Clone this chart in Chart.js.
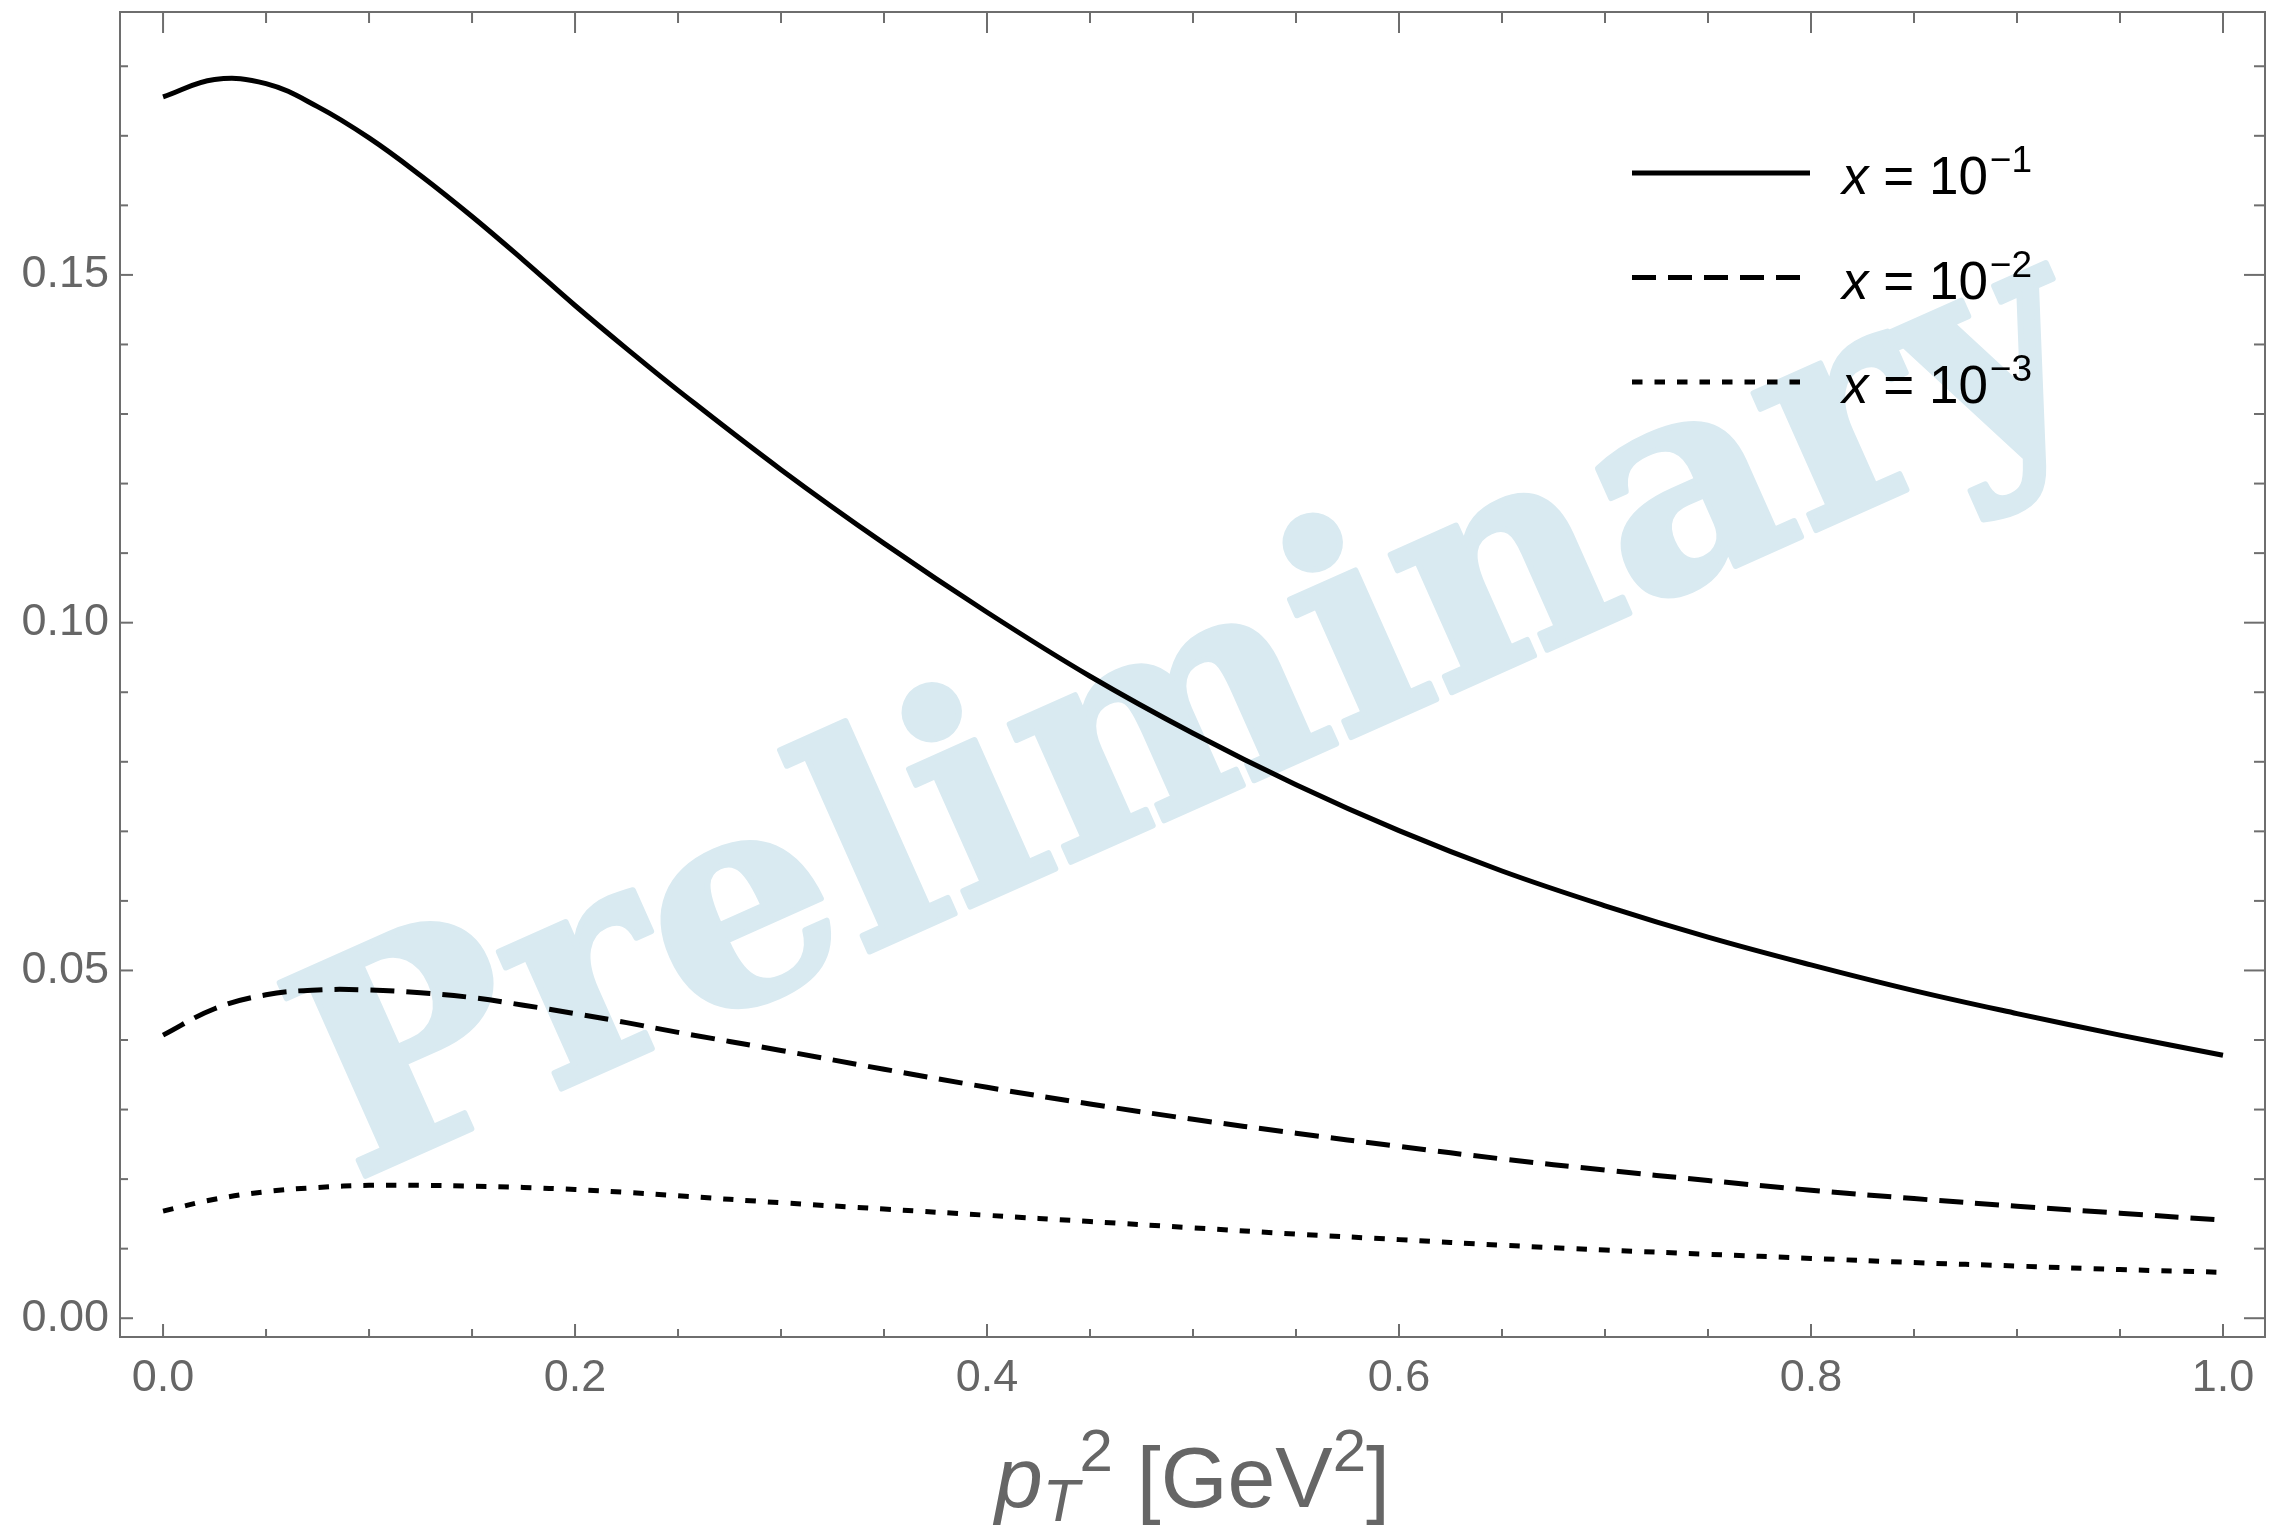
<!DOCTYPE html>
<html>
<head>
<meta charset="utf-8">
<script src="https://cdn.jsdelivr.net/npm/chart.js@4.4.1/dist/chart.umd.min.js"></script>
<style>
  html, body { margin: 0; padding: 0; background: #fff; }
  #chart { display: block; }
</style>
</head>
<body>
<canvas id="chart" width="2274" height="1527"></canvas>
<script>
// pT^2 grid [GeV^2] and curves
const pT2 = [0, 0.025, 0.05, 0.075, 0.1, 0.125, 0.15, 0.175, 0.2, 0.225, 0.25, 0.3, 0.35, 0.4, 0.45, 0.5,
             0.55, 0.6, 0.65, 0.7, 0.75, 0.8, 0.85, 0.9, 0.95, 1.0];
const xE1 = [0.1756, 0.1781, 0.1775, 0.1742, 0.1697, 0.1643, 0.1584, 0.1521, 0.1456, 0.1394, 0.1334, 0.1220, 0.1114, 0.1015, 0.0923, 0.0841,
             0.0767, 0.0701, 0.0643, 0.0593, 0.0548, 0.0508, 0.0471, 0.0438, 0.0407, 0.0378];
const xE2 = [0.0407, 0.0445, 0.0465, 0.0472, 0.0472, 0.0468, 0.0461, 0.0450, 0.0438, 0.0425, 0.0411, 0.0385, 0.0358, 0.0332, 0.0308, 0.0286,
             0.0266, 0.0247, 0.0229, 0.0213, 0.0198, 0.0184, 0.0172, 0.0161, 0.0151, 0.0141];
const xE3 = [0.0154, 0.0171, 0.0182, 0.0188, 0.0191, 0.0191, 0.0190, 0.0188, 0.0185, 0.0181, 0.0176, 0.0166, 0.0157, 0.0148, 0.0139, 0.0130,
             0.0121, 0.0113, 0.0105, 0.0098, 0.0092, 0.0086, 0.0080, 0.0075, 0.0070, 0.0066];

const seriesExp = ['\u22121', '\u22122', '\u22123'];
const xTicks = [0, 0.2, 0.4, 0.6, 0.8, 1.0];
const xMinorTicks = [0, 0.05, 0.1, 0.15, 0.2, 0.25, 0.3, 0.35, 0.4, 0.45, 0.5, 0.55, 0.6, 0.65, 0.7, 0.75, 0.8, 0.85, 0.9, 0.95, 1.0];
const yTicks = [0, 0.05, 0.10, 0.15];
const yMinorTicks = [0, 0.01, 0.02, 0.03, 0.04, 0.05, 0.06, 0.07, 0.08, 0.09, 0.10, 0.11, 0.12, 0.13, 0.14, 0.15, 0.16, 0.17, 0.18];

const GRAY = '#6e6e6e';
const SANS = '"Liberation Sans", Arial, sans-serif';

const pts = ys => pT2.map((x, i) => ({ x: x, y: ys[i] }));

function line(ctx, x1, y1, x2, y2) {
    ctx.beginPath(); ctx.moveTo(x1, y1); ctx.lineTo(x2, y2); ctx.stroke();
}

const decor = {
    id: 'decor',
    beforeDatasetsDraw(chart) {
        // watermark
        const { ctx, chartArea: a } = chart;
        ctx.save();
        ctx.translate(a.left + a.width * 0.5026, a.top + a.height * 0.540);
        ctx.rotate(-24 * Math.PI / 180);
        ctx.font = 'bold 290px "DejaVu Serif", serif';
        ctx.fillStyle = '#d9eaf1';
        ctx.strokeStyle = '#d9eaf1';
        ctx.lineWidth = 6;
        ctx.lineJoin = 'round';
        ctx.textAlign = 'center';
        ctx.textBaseline = 'alphabetic';
        ctx.fillText('Preliminary', 0, 71);
        ctx.strokeText('Preliminary', 0, 71);
        ctx.restore();
    },
    afterDatasetsDraw(chart) {
        const { ctx, chartArea: a, scales } = chart;
        const xs = scales.x, ys = scales.y;
        ctx.save();
        ctx.strokeStyle = GRAY;
        ctx.lineWidth = 2;
        ctx.strokeRect(a.left, a.top, a.width, a.height);

        // inward ticks, all four sides
        xMinorTicks.forEach(v => {
            const px = xs.getPixelForValue(v);
            const major = xTicks.some(t => Math.abs(t - v) < 1e-9);
            line(ctx, px, a.bottom, px, a.bottom - (major ? 13 : 8));
            line(ctx, px, a.top, px, a.top + (major ? 21 : 11));
        });
        yMinorTicks.forEach(v => {
            const py = ys.getPixelForValue(v);
            const major = yTicks.some(t => Math.abs(t - v) < 1e-9);
            line(ctx, a.left, py, a.left + (major ? 13 : 8), py);
            line(ctx, a.right, py, a.right - (major ? 21 : 11), py);
        });

        // legend
        const lx = a.left + 1512, tx = a.left + 1722;
        chart.data.datasets.forEach((ds, i) => {
            const ly = a.top + 161 + i * 104.5;
            ctx.strokeStyle = ds.borderColor;
            ctx.lineWidth = ds.borderWidth;
            ctx.setLineDash(ds.borderDash || []);
            line(ctx, lx, ly, lx + 178, ly);
            ctx.setLineDash([]);
            const base = ly + 21;
            ctx.fillStyle = '#000';
            ctx.textBaseline = 'alphabetic';
            ctx.textAlign = 'left';
            ctx.font = 'italic 53px ' + SANS;
            ctx.fillText('x', tx, base);
            let cx = tx + ctx.measureText('x').width;
            ctx.font = '53px ' + SANS;
            ctx.fillText(' = 10', cx, base);
            cx += ctx.measureText(' = 10').width;
            ctx.font = '37px ' + SANS;
            ctx.fillText(seriesExp[i], cx + 2, base - 22);
        });

        // axis title  p_T^2 [GeV^2]
        ctx.fillStyle = '#666';
        const fs = 86, sub = Math.round(fs * 0.7);
        const parts = [
            { t: 'p', f: 'italic ' + fs + 'px ' + SANS, dy: 0 },
            { t: 'T', f: 'italic ' + sub + 'px ' + SANS, dy: 14 },
            { t: '2', f: sub + 'px ' + SANS, dy: -36 },
            { t: ' [GeV', f: fs + 'px ' + SANS, dy: 0 },
            { t: '2', f: sub + 'px ' + SANS, dy: -36 },
            { t: ']', f: fs + 'px ' + SANS, dy: 0 }
        ];
        let w = 0;
        parts.forEach(p => { ctx.font = p.f; p.w = ctx.measureText(p.t).width; w += p.w; });
        let px = (a.left + a.right) / 2 - w / 2;
        const base = 1507;
        parts.forEach(p => { ctx.font = p.f; ctx.fillText(p.t, px, base + p.dy); px += p.w; });
        ctx.restore();
    }
};

const common = { borderColor: '#000', borderWidth: 5, pointRadius: 0, fill: false,
                 tension: 0.4, borderCapStyle: 'butt' };

new Chart(document.getElementById('chart'), {
    type: 'line',
    data: {
        datasets: [
            Object.assign({ label: 'x = 10^-1', data: pts(xE1) }, common),
            Object.assign({ label: 'x = 10^-2', data: pts(xE2), borderDash: [24, 12] }, common),
            Object.assign({ label: 'x = 10^-3', data: pts(xE3), borderDash: [10.5, 12] }, common)
        ]
    },
    options: {
        responsive: false,
        animation: false,
        layout: { padding: { top: 12, right: 9, left: 0, bottom: 0 } },
        plugins: { legend: { display: false }, tooltip: { enabled: false } },
        scales: {
            x: {
                type: 'linear', min: -0.0209, max: 1.0204,
                grid: { display: false, drawTicks: false }, border: { display: false },
                afterBuildTicks: s => { s.ticks = xTicks.map(v => ({ value: v })); },
                afterFit: s => { s.height = 190; s.paddingLeft = 0; s.paddingRight = 0; },
                ticks: { color: '#666', font: { family: SANS, size: 45 }, padding: 15,
                         autoSkip: false, maxRotation: 0, callback: v => v.toFixed(1) }
            },
            y: {
                type: 'linear', min: -0.0027, max: 0.1878,
                grid: { display: false, drawTicks: false }, border: { display: false },
                afterBuildTicks: s => { s.ticks = yTicks.map(v => ({ value: v })); },
                afterFit: s => { s.width = 120; s.paddingTop = 0; s.paddingBottom = 0; },
                ticks: { color: '#666', font: { family: SANS, size: 45 }, padding: 11,
                         autoSkip: false, callback: v => v.toFixed(2) }
            }
        }
    },
    plugins: [decor]
});
</script>
</body>
</html>
